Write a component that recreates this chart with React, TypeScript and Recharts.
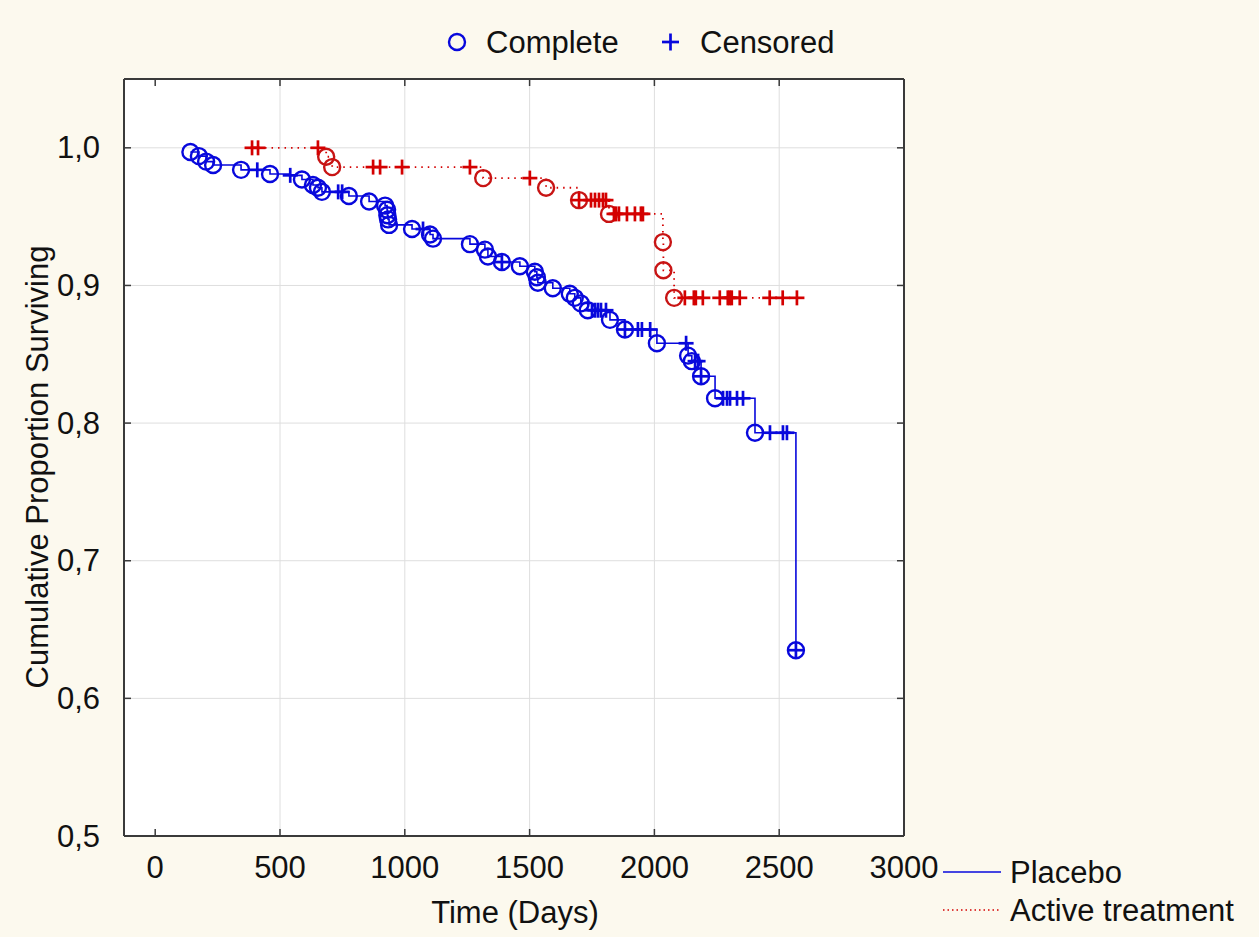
import React from 'react';
import { ComposedChart, Line, Scatter, XAxis, YAxis, CartesianGrid, ReferenceLine } from 'recharts';

// axis setup
const xTicks = [0, 500, 1000, 1500, 2000, 2500, 3000];
const yTicks = [0.5, 0.6, 0.7, 0.8, 0.9, 1.0];
const xGridValues = [500, 1000, 1500, 2000, 2500];
const yGridValues = [0.6, 0.7, 0.8, 0.9, 1.0];

// Placebo: complete (events)
const placeboEventDays = [141, 175, 204, 232, 344, 460, 588, 632, 652, 668, 776, 857, 921, 929, 930, 933, 937, 1029, 1101, 1113, 1261, 1321, 1333, 1389, 1461, 1521, 1529, 1533, 1593, 1661, 1681, 1705, 1733, 1822, 1882, 2010, 2135, 2150, 2187, 2243, 2403, 2567];
const placeboEventSurv = [0.997, 0.994, 0.99, 0.9875, 0.984, 0.981, 0.977, 0.973, 0.971, 0.968, 0.965, 0.961, 0.958, 0.955, 0.951, 0.948, 0.944, 0.941, 0.937, 0.934, 0.93, 0.926, 0.921, 0.917, 0.914, 0.91, 0.906, 0.902, 0.898, 0.894, 0.891, 0.887, 0.882, 0.875, 0.868, 0.858, 0.849, 0.845, 0.834, 0.818, 0.793, 0.635];
// Placebo: censored
const placeboCensorDays = [409, 541, 733, 749, 1073, 1389, 1750, 1762, 1774, 1786, 1806, 1882, 1934, 1950, 1983, 2127, 2163, 2175, 2187, 2275, 2291, 2303, 2331, 2355, 2463, 2515, 2531, 2567];
const placeboCensorSurv = [0.984, 0.98, 0.968, 0.968, 0.941, 0.917, 0.882, 0.882, 0.882, 0.882, 0.882, 0.868, 0.868, 0.868, 0.868, 0.858, 0.845, 0.845, 0.834, 0.818, 0.818, 0.818, 0.818, 0.818, 0.793, 0.793, 0.793, 0.635];

// Active treatment: complete (events)
const activeEventDays = [685, 709, 1314, 1566, 1698, 1818, 2034, 2036, 2079];
const activeEventSurv = [0.9935, 0.986, 0.978, 0.971, 0.962, 0.952, 0.9315, 0.911, 0.891];
// Active treatment: censored
const activeCensorDays = [388, 412, 652, 873, 901, 989, 1261, 1501, 1698, 1746, 1762, 1778, 1794, 1806, 1838, 1846, 1858, 1890, 1922, 1946, 1954, 2122, 2158, 2166, 2194, 2262, 2294, 2302, 2310, 2342, 2462, 2514, 2571];
const activeCensorSurv = [1, 1, 1, 0.986, 0.986, 0.986, 0.986, 0.978, 0.962, 0.962, 0.962, 0.962, 0.962, 0.962, 0.952, 0.952, 0.952, 0.952, 0.952, 0.952, 0.952, 0.891, 0.891, 0.891, 0.891, 0.891, 0.891, 0.891, 0.891, 0.891, 0.891, 0.891, 0.891];

const BLUE = '#0808dc';
const RED = '#d40000';
const FRAME = '#3a3a3a';
const FONT = '"Liberation Sans", Arial, sans-serif';
const FS = 31;

const toPoints = (days: number[], surv: number[]) => days.map((t, i) => ({ t, s: surv[i] }));
const curve = (a: { t: number; s: number }[], b: { t: number; s: number }[]) =>
    [...a, ...b].sort((p, q) => p.t - q.t || q.s - p.s);

const placeboEvents = toPoints(placeboEventDays, placeboEventSurv);
const placeboCensored = toPoints(placeboCensorDays, placeboCensorSurv);
const activeEvents = toPoints(activeEventDays, activeEventSurv);
const activeCensored = toPoints(activeCensorDays, activeCensorSurv);
const placeboCurve = curve(placeboEvents, placeboCensored);
const activeCurve = curve(activeEvents, activeCensored);

const circleShape = (color: string) => (props: any) => (
    <circle cx={props.cx} cy={props.cy} r={8} fill="none" stroke={color} strokeWidth={2.4} />
);
const plusShape = (color: string) => (props: any) => (
    <g stroke={color} strokeWidth={2.7}>
        <line x1={props.cx - 7.5} x2={props.cx + 7.5} y1={props.cy} y2={props.cy} />
        <line x1={props.cx} x2={props.cx} y1={props.cy - 7.5} y2={props.cy + 7.5} />
    </g>
);

const BottomTick = ({ x, y, payload }: any) => (
    <g>
        <line x1={x} x2={x} y1={y} y2={y - 7} stroke={FRAME} strokeWidth={1.5} />
        <text x={x} y={y + 31} textAnchor="middle" dominantBaseline="central" fontSize={FS} fill="#111" fontFamily={FONT}>
            {payload.value}
        </text>
    </g>
);
const LeftTick = ({ x, y, payload }: any) => (
    <g>
        <line x1={x} x2={x + 7} y1={y} y2={y} stroke={FRAME} strokeWidth={1.5} />
        <text x={x - 24} y={y} textAnchor="end" dominantBaseline="central" fontSize={FS} fill="#111" fontFamily={FONT}>
            {payload.value.toFixed(1).replace('.', ',')}
        </text>
    </g>
);
const TopTick = ({ x, y }: any) => <line x1={x} x2={x} y1={y} y2={y + 7} stroke={FRAME} strokeWidth={1.5} />;
const RightTick = ({ x, y }: any) => <line x1={x} x2={x - 7} y1={y} y2={y} stroke={FRAME} strokeWidth={1.5} />;

const App = () => {
    return (
        <div style={{ position: 'absolute', left: 0, top: 0, width: 1259, height: 937, background: '#fcf9ee', fontFamily: FONT }}>
            <ComposedChart width={1259} height={937} margin={{ top: 69, right: 345, bottom: 61, left: 64 }}>
                <CartesianGrid horizontal={false} vertical={false} fill="#ffffff" />
                {xGridValues.map(v => (
                    <ReferenceLine key={'gx' + v} x={v} stroke="#dedede" strokeWidth={1} />
                ))}
                {yGridValues.map(v => (
                    <ReferenceLine key={'gy' + v} y={v} stroke="#dedede" strokeWidth={1} />
                ))}
                <XAxis type="number" dataKey="t" domain={[-125, 3000]} ticks={xTicks} allowDataOverflow height={40}
                    tickSize={0} tickMargin={0} tickLine={false} axisLine={{ stroke: FRAME, strokeWidth: 2 }} tick={<BottomTick />} interval={0} />
                <XAxis xAxisId="top" orientation="top" type="number" dataKey="t" domain={[-125, 3000]} ticks={xTicks} allowDataOverflow height={10}
                    tickSize={0} tickMargin={0} tickLine={false} axisLine={{ stroke: FRAME, strokeWidth: 2 }} tick={<TopTick />} interval={0} />
                <YAxis type="number" dataKey="s" domain={[0.5, 1.05]} ticks={yTicks} allowDataOverflow width={60}
                    tickSize={0} tickMargin={0} tickLine={false} axisLine={{ stroke: FRAME, strokeWidth: 2 }} tick={<LeftTick />} interval={0} />
                <YAxis yAxisId="right" orientation="right" type="number" dataKey="s" domain={[0.5, 1.05]} ticks={yTicks} allowDataOverflow width={10}
                    tickSize={0} tickMargin={0} tickLine={false} axisLine={{ stroke: FRAME, strokeWidth: 2 }} tick={<RightTick />} interval={0} />

                <Line data={placeboCurve} dataKey="s" type="stepAfter" stroke={BLUE} strokeWidth={1.6} dot={false} isAnimationActive={false} />
                <Line data={activeCurve} dataKey="s" type="stepAfter" stroke={RED} strokeWidth={1.8} strokeDasharray="1.5 5" dot={false} isAnimationActive={false} />

                <Scatter data={activeEvents} dataKey="s" shape={circleShape('#c81414')} isAnimationActive={false} />
                <Scatter data={activeCensored} dataKey="s" shape={plusShape(RED)} isAnimationActive={false} />
                <Scatter data={placeboEvents} dataKey="s" shape={circleShape(BLUE)} isAnimationActive={false} />
                <Scatter data={placeboCensored} dataKey="s" shape={plusShape(BLUE)} isAnimationActive={false} />
            </ComposedChart>

            {/* axis titles */}
            <div style={{ position: 'absolute', left: 515, top: 913, transform: 'translate(-50%, -50%)', fontSize: FS, color: '#111', whiteSpace: 'nowrap' }}>
                Time (Days)
            </div>
            <div style={{ position: 'absolute', left: 38, top: 467, transform: 'translate(-50%, -50%) rotate(-90deg)', fontSize: FS, color: '#111', whiteSpace: 'nowrap' }}>
                Cumulative Proportion Surviving
            </div>

            {/* marker legend */}
            <svg style={{ position: 'absolute', left: 0, top: 0 }} width={1259} height={937} pointerEvents="none">
                <circle cx={457} cy={42} r={8} fill="none" stroke={BLUE} strokeWidth={2.4} />
                <text x={486} y={42} dominantBaseline="central" fontSize={FS} fill="#111" fontFamily={FONT}>Complete</text>
                <g stroke={BLUE} strokeWidth={2.7}>
                    <line x1={662} x2={679} y1={42} y2={42} />
                    <line x1={670.5} x2={670.5} y1={33.5} y2={50.5} />
                </g>
                <text x={700} y={42} dominantBaseline="central" fontSize={FS} fill="#111" fontFamily={FONT}>Censored</text>

                <line x1={943} x2={1001} y1={872} y2={872} stroke={BLUE} strokeWidth={1.5} />
                <text x={1010} y={872} dominantBaseline="central" fontSize={FS} fill="#111" fontFamily={FONT}>Placebo</text>
                <line x1={943} x2={1001} y1={910} y2={910} stroke={RED} strokeWidth={1.5} strokeDasharray="1.5 3" />
                <text x={1010} y={910} dominantBaseline="central" fontSize={FS} fill="#111" fontFamily={FONT}>Active treatment</text>
            </svg>
        </div>
    );
};

export default App;
